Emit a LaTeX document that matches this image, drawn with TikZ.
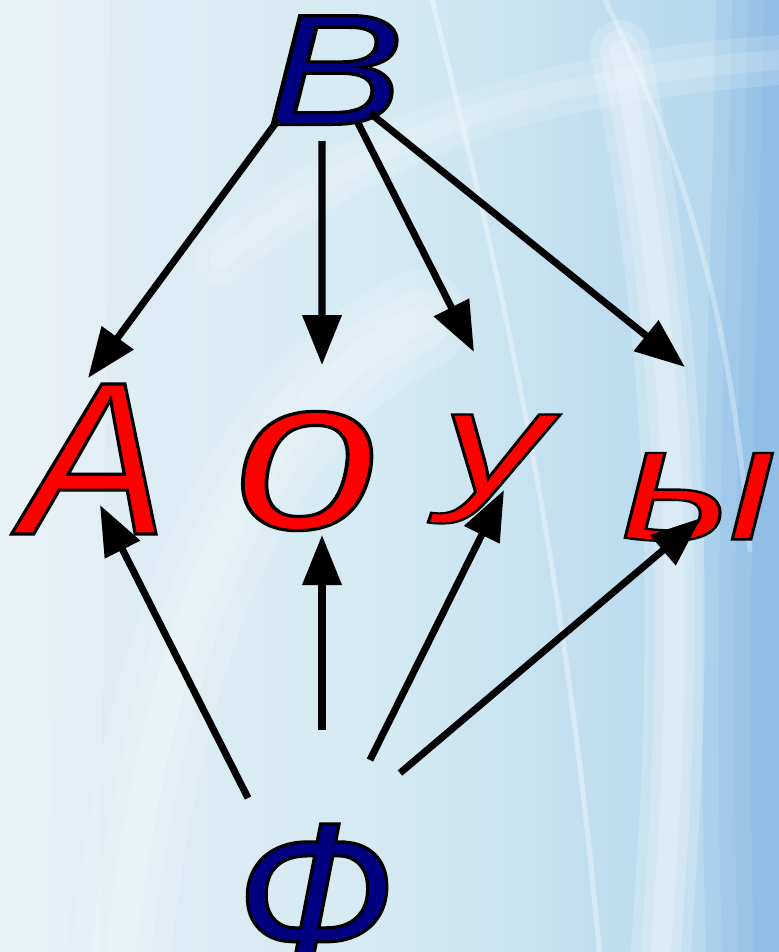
\documentclass[tikz,border=0pt]{standalone}
\usepackage{fontspec}
\setmainfont{Liberation Sans}
\usetikzlibrary{arrows.meta,positioning,calc}
\definecolor{letblue}{RGB}{0,0,128}
\definecolor{letred}{RGB}{255,0,0}
\definecolor{bgleft}{RGB}{226,238,244}
\definecolor{bgmid}{RGB}{212,234,243}
\definecolor{bgright}{RGB}{176,212,236}
\definecolor{edgeblue}{RGB}{112,168,226}
% letters with a thin black outline
\newcommand\outlined[1]{\special{pdf:literal direct 2 Tr 0 0 0 RG 0.9 w}#1\special{pdf:literal direct 0 Tr}}

\begin{document}
\begin{tikzpicture}[>={Triangle[length=5mm,width=3.8mm]},
  arr/.style={->,line width=2pt},
  letter/.style={inner sep=0pt,font=\itshape\fontsize{62}{62}\selectfont},
  consonant/.style={letter,text=letblue},
  vowel/.style={letter,text=letred},
  glow/.style={white,line cap=round}]
  % background
  \useasboundingbox (0,0) rectangle (7.79,-9.52);
  \shade[left color=bgleft,right color=bgright,middle color=bgmid] (0,0) rectangle (7.79,-9.52);
  \begin{scope}
    \clip (0,0) rectangle (7.79,-9.52);
    % blue strip on the right
    \foreach \w in {2,4,6,8}
      \fill[edgeblue,opacity=0.15] (7.8-\w*0.08,0) .. controls (7.75-\w*0.08,-3) and (7.6-\w*0.08,-6) .. (7.7-\w*0.08,-9.52) -- (7.79,-9.52) -- (7.79,0) -- cycle;
    % soft white bands
    \foreach \w in {2,4,6}
      \draw[glow,opacity=0.2,line width=\w mm] (6.6,-9.6) .. controls (6.8,-7) and (6.9,-4) .. (6.2,-0.5);
    \foreach \w in {3,6,10}
      \draw[glow,opacity=0.15,line width=\w mm] (1.2,-9.6) .. controls (1.6,-6) and (2.6,-4) .. (4.2,-3.2);
    \foreach \w in {4,8,14}
      \draw[glow,opacity=0.12,line width=\w mm] (0.3,-9.6) -- (0.4,0.1);
    \draw[glow,opacity=0.35,line width=0.5mm] (4.3,0.1) .. controls (4.8,-2) and (5.6,-5) .. (6.0,-9.6);
    \draw[glow,opacity=0.3,line width=0.5mm] (6.0,0.1) .. controls (6.8,-1.5) and (7.3,-3) .. (7.5,-5.5);
    \foreach \w in {2,5}
      \draw[glow,opacity=0.15,line width=\w mm] (2.2,-2.6) .. controls (3.5,-1.5) and (5,-0.8) .. (7.8,-0.6);
  \end{scope}

  % letters
  \node[consonant,font=\itshape\fontsize{45}{45}\selectfont,xscale=1.3] (B) at (3.35,-0.70) {\outlined{В}};
  \node[vowel] (A) at (0.95,-4.59) {\outlined{А}};
  \node[vowel,xscale=1.2] (O) at (3.07,-4.71) {\outlined{о}};
  \node[vowel,yscale=0.68] (U) at (4.95,-4.69) {\outlined{у}};
  \node[vowel,xscale=0.97,yscale=0.75] (Y) at (6.99,-4.97) {\outlined{ы}};
  \node[consonant,font=\itshape\fontsize{57}{57}\selectfont] (F) at (3.15,-8.94) {\outlined{Ф}};

  % arrows from В
  \draw[arr] ([shift={(-0.57,-0.50)}]B.center) -- ([shift={(-0.07,0.81)}]A.center);
  \draw[arr] ([shift={(-0.13,-0.71)}]B.center) -- ([shift={(0.15,1.06)}]O.center);
  \draw[arr] ([shift={(0.23,-0.53)}]B.center) -- ([shift={(-0.21,1.17)}]U.center);
  \draw[arr] ([shift={(0.35,-0.43)}]B.center) -- ([shift={(-0.14,1.30)}]Y.center);

  % arrows from Ф
  \draw[arr] ([shift={(-0.67,0.96)}]F.center) -- ([shift={(0.05,-0.46)}]A.center);
  \draw[arr] ([shift={(0.07,1.64)}]F.center) -- ([shift={(0.15,-0.64)}]O.center);
  \draw[arr] ([shift={(0.55,1.34)}]F.center) -- ([shift={(0.09,-0.21)}]U.center);
  \draw[arr] ([shift={(0.85,1.21)}]F.center) -- ([shift={(0.02,-0.21)}]Y.center);
\end{tikzpicture}
\end{document}
